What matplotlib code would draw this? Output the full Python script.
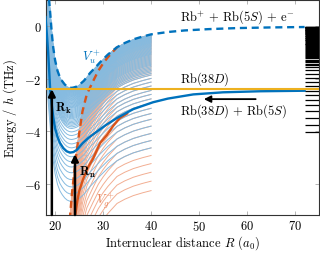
import numpy as np
import matplotlib
matplotlib.use("Agg")
import matplotlib.pyplot as plt

plt.rcParams.update({
    "font.family": "serif",
    "font.serif": ["cmr10"],
    "mathtext.fontset": "cm",
    "axes.formatter.use_mathtext": True,
    "font.size": 9,
})

BLUE = "#0072BD"
ORANGE = "#D95319"
YELLOW = "#EDB120"
FAN_BLUE = "#86BBE0"
FAN_ORANGE = "#F2AE92"

# ionic core potential V_u^+ (THz) vs R (a0)
R_u = np.array([18.0, 18.3, 18.5, 18.75, 19.0, 19.3, 19.6, 20.0, 20.5, 21.0, 21.5,
                22.0, 22.5, 23.0, 23.5, 24.0, 24.5, 25.0, 26.0, 27.3, 28.5, 29.4,
                31.0, 32.9, 34.5, 36.3, 38.3, 40.0, 43.5, 47.0, 52.0, 58.0, 65.0, 72.0])
V_u = np.array([2.9, 2.15, 1.6, 1.0, 0.45, -0.25, -0.8, -1.3, -1.7, -1.95, -2.1,
                -2.22, -2.3, -2.34, -2.35, -2.33, -2.3, -2.24, -2.08, -1.78, -1.55, -1.37,
                -1.08, -0.8, -0.64, -0.5, -0.39, -0.31, -0.22, -0.16, -0.11, -0.07, -0.045, -0.03])

# ionic core potential V_g^+
R_g = np.array([22.0, 22.5, 23.0, 23.5, 24.0, 24.5, 25.0, 25.7, 26.6, 27.9, 29.0,
                30.0, 31.0, 32.0, 32.9, 34.5, 36.3, 38.3, 40.0])
V_g = np.array([-10.5, -9.0, -7.5, -6.4, -5.55, -4.75, -4.1, -3.25, -2.6, -2.1, -1.7,
                -1.42, -1.18, -0.98, -0.8, -0.64, -0.5, -0.39, -0.31])

# Rb(38D) + Rb(5S) potentials
R_b = np.array([18.0, 18.3, 18.55, 18.75, 18.96, 19.3, 19.6, 20.0, 20.5, 21.0, 21.7,
                22.4, 23.1, 23.8, 24.5, 25.8, 27.0, 28.7, 30.5, 32.9, 36.3, 40.4,
                43.5, 48.8, 55.0, 62.7, 72.0])
E_b = np.array([0.35, -0.35, -1.0, -1.65, -2.4, -3.0, -3.45, -3.9, -4.22, -4.45, -4.65,
                -4.77, -4.82, -4.8, -4.72, -4.45, -4.25, -4.02, -3.78, -3.5, -3.16, -2.9,
                -2.76, -2.6, -2.52, -2.48, -2.46])
R_o = np.array([23.9, 24.2, 24.6, 25.0, 25.8, 26.8, 27.9, 29.4, 30.8, 32.1, 33.5, 35.0])
E_o = np.array([-7.6, -7.2, -6.7, -6.3, -5.85, -5.4, -5.05, -4.45, -4.15, -3.8, -3.5, -3.33])

E_38D = -2.4

# Rydberg levels (THz)
levels = [-5.96, -5.6, -5.26, -4.93, -4.62, -4.33, -4.05, -3.78, -3.50, -3.24,
          -3.02, -2.82, -2.63, -2.46, -2.29, -2.14, -1.97, -1.82, -1.68,
          -1.55, -1.49, -1.43, -1.38, -1.33, -1.28, -1.23, -1.18, -1.14, -1.10,
          -1.06, -1.02, -0.98, -0.94, -0.90, -0.86, -0.82, -0.78, -0.75, -0.72,
          -0.69, -0.66, -0.63, -0.60, -0.57, -0.54, -0.51, -0.48, -0.455, -0.43,
          -0.405, -0.38, -0.355, -0.33, -0.31, -0.29, -0.27, -0.25, -0.23, -0.21,
          -0.19, -0.17, -0.155, -0.14, -0.125, -0.11, -0.095, -0.08, -0.065,
          -0.05, -0.04, -0.03, -0.02, -0.01]

fig = plt.figure(figsize=(3.2, 2.55), dpi=100)
ax = fig.add_axes([46 / 320, 39 / 255, 273 / 320, 215.5 / 255])

fan = R_u <= 40
for lv in levels:
    ax.plot(R_g, V_g + lv, color=FAN_ORANGE, lw=0.7, zorder=1)
for lv in levels:
    if lv >= -4.4:
        ax.plot(R_u[fan], V_u[fan] + lv, color=FAN_BLUE, lw=0.7, zorder=1.5)

dash = (0, (3, 2))
g_vis = R_g <= 33
ax.plot(R_g[g_vis], V_g[g_vis], color=ORANGE, ls=dash, lw=1.7, zorder=3)
ax.plot(R_u, V_u, color=BLUE, ls=dash, lw=1.7, zorder=4)
ax.plot(R_o, E_o, color=ORANGE, lw=1.7, zorder=5)
ax.plot(R_b, E_b, color=BLUE, lw=1.7, zorder=6)
ax.axhline(E_38D, color=YELLOW, lw=1.5, zorder=7)

ticks = [lv for lv in levels if lv >= -4.1]
ax.hlines(ticks, 72, 75, color="k", lw=0.9, zorder=8)

arr = dict(arrowstyle="-|>", color="k", lw=1.8, mutation_scale=10,
           shrinkA=0, shrinkB=0)
ax.annotate("", xy=(19.32, E_38D), xytext=(19.32, -7.2), arrowprops=arr, zorder=9)
ax.annotate("", xy=(24.14, -4.88), xytext=(24.14, -7.2), arrowprops=arr, zorder=9)
ax.annotate("", xy=(51.0, -2.78), xytext=(61.8, -2.78),
            arrowprops=dict(arr, lw=1.3), zorder=9)

ax.text(46.1, 0.26, r"Rb$^{+}$ + Rb(5$S$) + e$^{-}$", va="baseline")
ax.text(46.1, -2.11, r"Rb(38$D$)", va="baseline")
ax.text(46.1, -3.34, r"Rb(38$D$) + Rb(5$S$)", va="baseline")
ax.text(25.6, -1.27, r"$V_u^+$", color=BLUE, va="baseline", zorder=10)
ax.text(28.6, -6.72, r"$V_g^+$", color="#E9845A", va="baseline", zorder=10)
ax.text(20.0, -3.22, r"$\mathbf{R}_\mathbf{k}$", va="baseline", zorder=10)
ax.text(25.0, -5.68, r"$\mathbf{R}_\mathbf{n}$", va="baseline", zorder=10)

ax.set_xlim(18.1, 75)
ax.set_ylim(-7.2, 1.02)
ax.set_xticks([20, 30, 40, 50, 60, 70])
ax.set_yticks([-6, -4, -2, 0])
ax.tick_params(direction="in", top=True, right=True, length=3, width=0.5,
               color="0.6", pad=3)
for s in ax.spines.values():
    s.set_linewidth(0.8)
    s.set_color("0.2")

ax.set_xlabel(r"Internuclear distance $R$ ($a_0$)")
ax.set_ylabel(r"Energy / $h$ (THz)")
ax.xaxis.set_label_coords(0.5, -0.125)
ax.xaxis.label.set_va("center")
ax.yaxis.set_label_coords(-0.132, 0.5)
ax.yaxis.label.set_va("center")

fig.savefig("out.png", dpi=100)
